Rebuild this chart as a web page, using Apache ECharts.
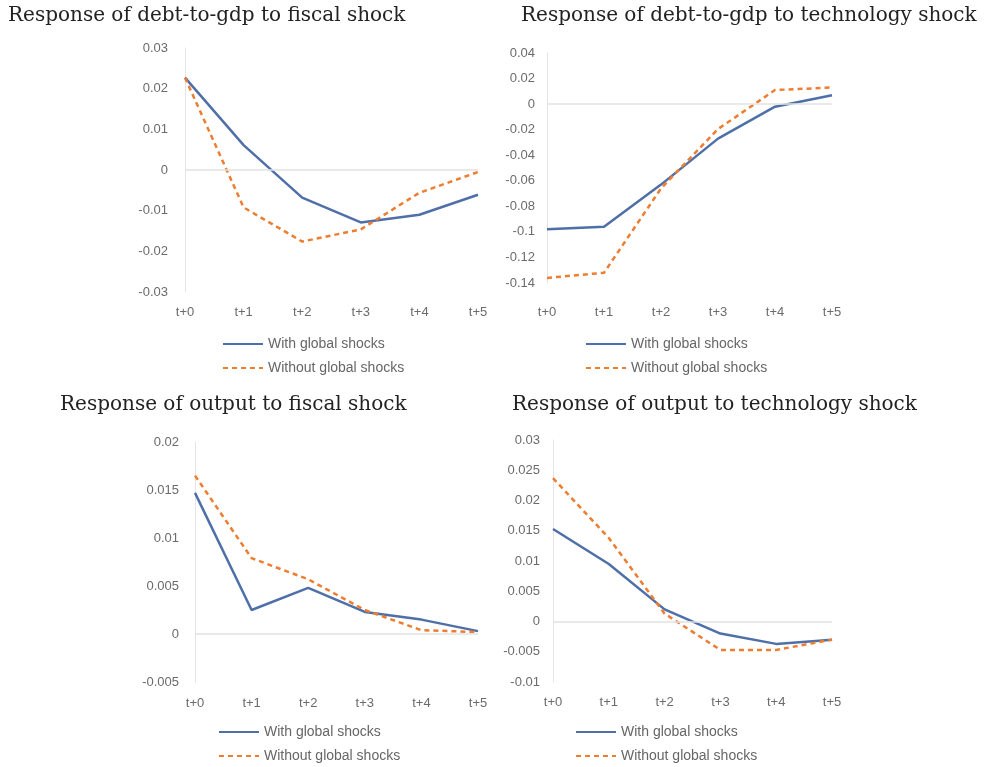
<!DOCTYPE html>
<html><head><meta charset="utf-8">
<script src="https://cdn.jsdelivr.net/npm/echarts@6/dist/echarts.min.js"></script>
<style>html,body{margin:0;padding:0;background:#fff}#c{width:988px;height:767px}</style>
</head><body><div id="c"></div>
<script>
const categories = ['t+0','t+1','t+2','t+3','t+4','t+5'];
const seriesNames = ['With global shocks','Without global shocks'];
const titles = ['Response of debt-to-gdp to fiscal shock','Response of debt-to-gdp to technology shock','Response of output to fiscal shock','Response of output to technology shock'];
const debtFiscalWith = [0.0227, 0.0061, -0.0068, -0.0129, -0.011, -0.0061];
const debtFiscalWithout = [0.0227, -0.0092, -0.0176, -0.0146, -0.0056, -0.0005];
const debtTechWith = [-0.098, -0.096, -0.063, -0.027, -0.002, 0.007];
const debtTechWithout = [-0.136, -0.132, -0.066, -0.0195, 0.011, 0.013];
const outFiscalWith = [0.0147, 0.0025, 0.0048, 0.0023, 0.0015, 0.0003];
const outFiscalWithout = [0.0165, 0.0079, 0.0057, 0.0025, 0.0004, 0.0002];
const outTechWith = [0.0153, 0.0095, 0.002, -0.002, -0.0037, -0.003];
const outTechWithout = [0.0237, 0.0138, 0.0013, -0.0047, -0.0047, -0.003];
const yTicks = [[-0.03,0.03,0.01],[-0.14,0.04,0.02],[-0.005,0.02,0.005],[-0.01,0.03,0.005]];

const panels = [
  {w: debtFiscalWith, wo: debtFiscalWithout},
  {w: debtTechWith, wo: debtTechWithout},
  {w: outFiscalWith, wo: outFiscalWithout},
  {w: outTechWith, wo: outTechWithout}
];
const layout = [
  {grid:{left:185,width:293,top:48,height:244}, xm:14, ym:17, title:{left:8,top:6}, legend:{left:222,top:337}},
  {grid:{left:547,width:285,top:53,height:230}, xm:23, ym:12, title:{left:521,top:6}, legend:{left:585,top:337}},
  {grid:{left:195,width:283,top:442,height:240}, xm:15, ym:16, title:{left:60,top:395}, legend:{left:218,top:725}},
  {grid:{left:553,width:279,top:440,height:242}, xm:14, ym:13, title:{left:512,top:395}, legend:{left:575,top:725}}
];
const BLUE='#4E6FA8', ORANGE='#ED7D31';
const opt = {animation:false, title:[], grid:[], xAxis:[], yAxis:[], series:[], legend:[]};
layout.forEach((L,i)=>{
  opt.title.push({text:titles[i], left:L.title.left, top:L.title.top, padding:0, textStyle:{fontFamily:'DejaVu Serif', fontSize:20, fontWeight:'normal', color:'#222'}});
  opt.grid.push(Object.assign({containLabel:false}, L.grid));
  opt.xAxis.push({type:'category', gridIndex:i, data:categories, boundaryGap:false,
    axisLine:{show:false}, axisTick:{show:false},
    axisLabel:{margin:L.xm, color:'#6b6b6b', fontSize:13, fontFamily:'Liberation Sans'}});
  const [mn,mx,iv]=yTicks[i];
  opt.yAxis.push({type:'value', gridIndex:i, min:mn, max:mx, interval:iv,
    axisLine:{show:true, lineStyle:{color:'#e4e4e4'}}, axisTick:{show:false}, splitLine:{show:false},
    axisLabel:{margin:L.ym, color:'#6b6b6b', fontSize:13, fontFamily:'Liberation Sans',
      formatter:v=>String(Math.round(v*1000)/1000)}});
  const p=panels[i];
  opt.series.push({name:seriesNames[0], type:'line', xAxisIndex:i, yAxisIndex:i, data:p.w, symbol:'none',
    lineStyle:{color:BLUE, width:2.5}, itemStyle:{color:BLUE},
    markLine:{silent:true, symbol:'none', label:{show:false}, lineStyle:{color:'#e2e2e2', type:'solid', width:1.5}, data:[{yAxis:0}]}});
  opt.series.push({name:seriesNames[1], type:'line', xAxisIndex:i, yAxisIndex:i, data:p.wo, symbol:'none',
    lineStyle:{color:ORANGE, width:2.5, type:[5,4]}, itemStyle:{color:ORANGE}});
  opt.legend.push({orient:'vertical', left:L.legend.left, top:L.legend.top, padding:0, itemWidth:40, itemHeight:14, itemGap:10,
    itemStyle:{opacity:0}, data:seriesNames, textStyle:{color:'#666', fontSize:14, fontFamily:'Liberation Sans'}});
});
const chart = echarts.init(document.getElementById('c'), null, {renderer:'canvas'});
chart.setOption(opt);
</script></body></html>
